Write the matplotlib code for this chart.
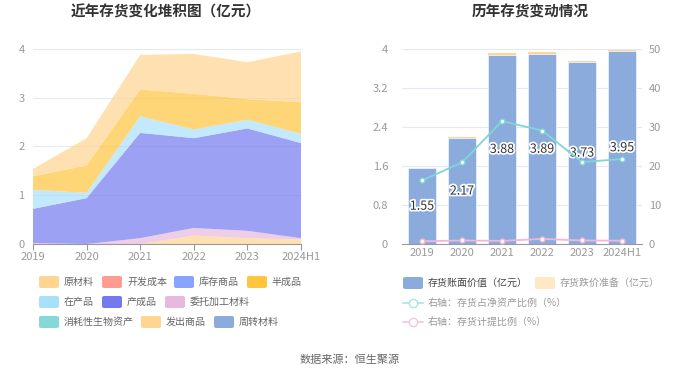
import matplotlib
matplotlib.use('Agg')
import numpy as np
import matplotlib.pyplot as plt
import matplotlib.patheffects as pe
from matplotlib.patches import FancyBboxPatch
from matplotlib.lines import Line2D

plt.rcParams['font.family'] = ['Noto Sans CJK SC', 'DejaVu Sans']

years = ['2019', '2020', '2021', '2022', '2023', '2024H1']

# stacked area components (亿元), bottom to top
fachu = [0, 0, 0, 0.17, 0.12, 0.09]            # 发出商品
weituo = [0.02, 0, 0.12, 0.16, 0.15, 0.03]     # 委托加工材料
chanchengpin = [0.70, 0.94, 2.16, 1.84, 2.10, 1.95]  # 产成品
zaichanpin = [0.39, 0.11, 0.34, 0.18, 0.18, 0.19]    # 在产品
banchengpin = [0.28, 0.56, 0.55, 0.73, 0.42, 0.65]   # 半成品
yuancailiao = [0.15, 0.56, 0.71, 0.82, 0.76, 1.04]   # 原材料

# right chart
book_value = [1.55, 2.17, 3.88, 3.89, 3.73, 3.95]
impairment = [0.01, 0.02, 0.03, 0.04, 0.03, 0.03]
net_asset_ratio = [16.3, 20.9, 31.5, 29.1, 21.0, 21.8]
provision_ratio = [0.7, 0.9, 0.8, 1.3, 0.9, 0.85]

legend_names = ['原材料', '开发成本', '库存商品', '半成品', '在产品', '产成品',
                '委托加工材料', '消耗性生物资产', '发出商品', '周转材料']
legend_colors = ['#ffd591', '#ff9c8f', '#87a5ff', '#ffc53d', '#a8e0fb', '#7479f0',
                 '#e8b9dd', '#84d8d8', '#ffd591', '#8aabdb']
col = dict(zip(legend_names, legend_colors))

W, H = 700, 378
fig = plt.figure(figsize=(7, 3.78), dpi=100)

def fx(px):
    return px / W

def fy(py):
    return 1 - py / H

grid_c = '#e3e8f5'
tick_c = '#999999'

# ---------------- left: stacked area ----------------
ax1 = fig.add_axes([fx(33), fy(244), fx(268), (244 - 49) / H])
x = np.arange(len(years))
layers = [fachu, weituo, chanchengpin, zaichanpin, banchengpin, yuancailiao]
names = ['发出商品', '委托加工材料', '产成品', '在产品', '半成品', '原材料']
ax1.stackplot(x, *layers, colors=[col[n] for n in names], alpha=0.7, linewidth=0, zorder=1)
ax1.set_xlim(0, len(years) - 1)
ax1.set_ylim(0, 4)
ax1.set_yticks([0, 1, 2, 3, 4])
ax1.set_xticks(x)
ax1.set_xticklabels(years)
ax1.grid(axis='y', color=grid_c, linewidth=0.8, zorder=0)
ax1.set_axisbelow(True)
for s in ['top', 'right', 'left']:
    ax1.spines[s].set_visible(False)
ax1.spines['bottom'].set_color('#999999')
ax1.tick_params(axis='y', length=0, labelsize=8, colors=tick_c, pad=6)
ax1.tick_params(axis='x', length=4, color='#999999', labelsize=8, labelcolor=tick_c, pad=2)

# ---------------- right: bars + lines ----------------
ax2 = fig.add_axes([fx(402), fy(244), fx(240), (244 - 49) / H])
ax2.bar(x, book_value, width=0.72, color='#8aabdb', edgecolor='white', linewidth=0.4, zorder=2)
ax2.bar(x, impairment, width=0.72, bottom=book_value, color='#ffd591', linewidth=0, zorder=2)
for xi, v in zip(x, book_value):
    ax2.text(xi, v / 2, f'{v:.2f}', ha='center', va='center', fontsize=9, color='#333333',
             path_effects=[pe.withStroke(linewidth=2.5, foreground='white')], zorder=5)
ax2.set_xlim(-0.5, len(years) - 0.5)
ax2.set_ylim(0, 4)
ax2.set_yticks([0, 0.8, 1.6, 2.4, 3.2, 4])
ax2.set_yticklabels(['0', '0.8', '1.6', '2.4', '3.2', '4'])
ax2.set_xticks(x)
ax2.set_xticklabels(years)
ax2.grid(axis='y', color=grid_c, linewidth=0.8, zorder=0)
ax2.set_axisbelow(True)
for s in ['top', 'right', 'left']:
    ax2.spines[s].set_visible(False)
ax2.spines['bottom'].set_color('#999999')
ax2.tick_params(axis='y', length=0, labelsize=8, colors=tick_c, pad=10)
ax2.tick_params(axis='x', length=0, labelsize=8, labelcolor=tick_c, pad=3)

ax3 = ax2.twinx()
ax3.plot(x, net_asset_ratio, color='#7fd6d6', linewidth=1.3, marker='o', markersize=3.5,
         markerfacecolor='white', markeredgecolor='#7fd6d6', zorder=4)
ax3.plot(x, provision_ratio, color='#f2b6d9', linewidth=1.3, marker='o', markersize=3.5,
         markerfacecolor='white', markeredgecolor='#f2b6d9', zorder=4)
ax3.set_ylim(0, 50)
ax3.set_yticks([0, 10, 20, 30, 40, 50])
for s in ax3.spines.values():
    s.set_visible(False)
ax3.tick_params(axis='y', length=0, labelsize=8, colors=tick_c, pad=5)

# ---------------- titles ----------------
fig.text(fx(166), fy(12), '近年存货变化堆积图（亿元）', ha='center', va='center',
         fontsize=10.5, fontweight='bold', color='#333333')
fig.text(fx(530), fy(12), '历年存货变动情况', ha='center', va='center',
         fontsize=10.5, fontweight='bold', color='#333333')

# ---------------- left legend ----------------
def swatch(px, py, color):
    p = FancyBboxPatch((fx(px), fy(py + 6)), fx(20), 12 / H,
                       boxstyle='round,pad=0,rounding_size=0.004',
                       transform=fig.transFigure, facecolor=color, edgecolor='none')
    fig.patches.append(p)

left_pos = [(39, 282), (102, 282), (174, 282), (247, 282),
            (39, 302), (102, 302), (165, 302),
            (39, 322), (141, 322), (214, 322)]
for n, c, (px, py) in zip(legend_names, legend_colors, left_pos):
    swatch(px, py, c)
    fig.text(fx(px + 25), fy(py), n, ha='left', va='center', fontsize=7.2, color='#666666')

# ---------------- right legend ----------------
swatch(403, 283, '#8aabdb')
fig.text(fx(428), fy(283), '存货账面价值（亿元）', ha='left', va='center', fontsize=7.2, color='#444444')
swatch(535, 283, '#ffe8c4')
fig.text(fx(560), fy(283), '存货跌价准备（亿元）', ha='left', va='center', fontsize=7.2, color='#999999')
for py, c, t in [(303, '#a8e6e6', '右轴：存货占净资产比例（%）'),
                 (322, '#f5c6e0', '右轴：存货计提比例（%）')]:
    fig.lines.append(Line2D([fx(403), fx(423)], [fy(py), fy(py)], transform=fig.transFigure,
                            color=c, linewidth=1.2, marker=None))
    fig.lines.append(Line2D([fx(413)], [fy(py)], transform=fig.transFigure, color=c,
                            marker='o', markersize=6, markerfacecolor='white', markeredgecolor=c))
    fig.text(fx(428), fy(py), t, ha='left', va='center', fontsize=7.2, color='#999999')

fig.text(fx(350), fy(360), '数据来源：恒生聚源', ha='center', va='center', fontsize=8, color='#666666')

fig.savefig('out.png', dpi=100)
